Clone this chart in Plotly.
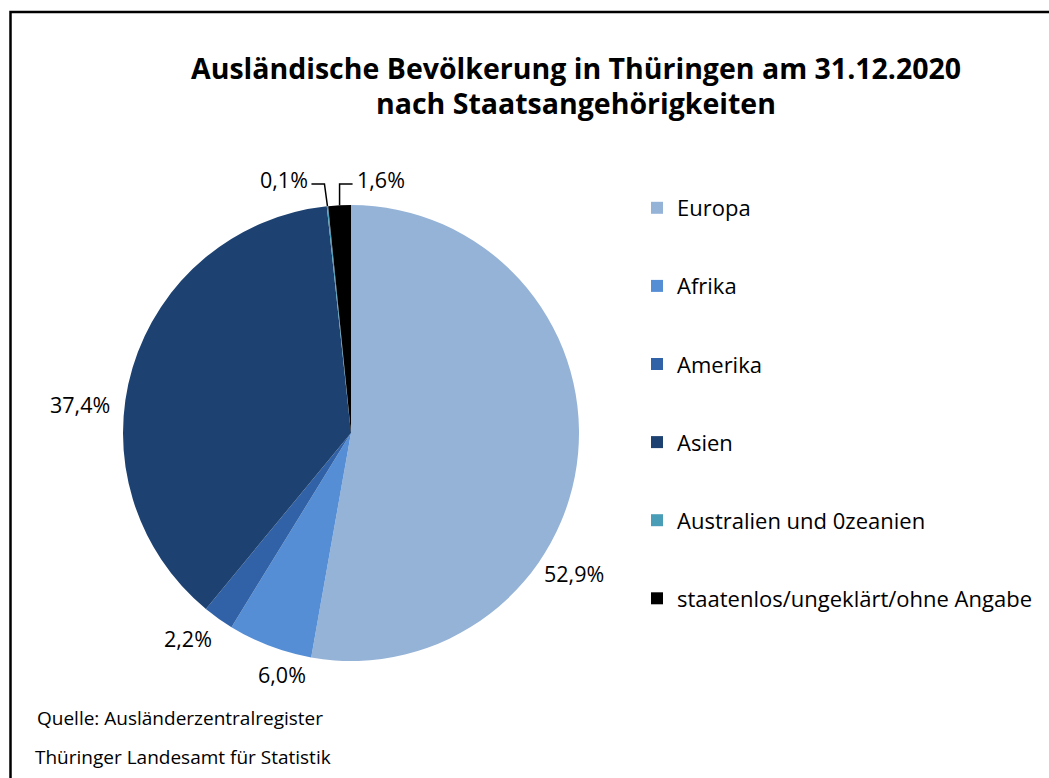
import math
import plotly.graph_objects as go

W, H = 1049, 778

# ---- data ----
categories = ["Europa", "Afrika", "Amerika", "Asien",
              "Australien und 0zeanien", "staatenlos/ungeklärt/ohne Angabe"]
shares = [52.9, 6.0, 2.2, 37.4, 0.1, 1.6]
colors = ["#95B3D7", "#558ED5", "#3161A6", "#1D4271", "#4A9DB7", "#000000"]

title_lines = ["Ausländische Bevölkerung in Thüringen am 31.12.2020",
               "nach Staatsangehörigkeiten"]
footer_lines = ["Quelle: Ausländerzentralregister",
                "Thüringer Landesamt für Statistik"]

FONT = "Open Sans"

def fx(x):
    return x / W

def fy(y):
    return 1 - y / H

# pie geometry (pixels)
CX, CY, R = 351, 433, 228

fig = go.Figure()
fig.add_trace(go.Pie(
    labels=categories, values=shares, sort=False, direction="clockwise",
    rotation=0, marker=dict(colors=colors, line=dict(width=0)),
    textinfo="none", hoverinfo="label+percent", showlegend=False,
    domain=dict(x=[fx(CX - R), fx(CX + R)], y=[fy(CY + R), fy(CY - R)]),
))

# legend via dummy traces
for name, col in zip(categories, colors):
    fig.add_trace(go.Scatter(
        x=[None], y=[None], mode="markers", name=name, legendgroup=name,
        marker=dict(symbol="square", size=14, color=col), showlegend=True,
        hoverinfo="skip"))

# percentage labels
def pct(v):
    return f"{v:.1f}%".replace(".", ",")

label_pos = {  # pixel centre / anchor of each label text
    0: (574, 573, "center"),
    1: (282, 674, "center"),
    2: (188, 638, "center"),
    3: (80, 404, "center"),
    4: (310, 179, "right"),
    5: (355, 179, "left"),
}
annotations = []
for i, v in enumerate(shares):
    x, y, anc = label_pos[i]
    annotations.append(dict(
        x=fx(x), y=fy(y), xref="paper", yref="paper", text=pct(v),
        showarrow=False, xanchor=anc, yanchor="middle",
        font=dict(family=FONT, size=21.5, color="#000000")))

# leader lines for the small top slices, from slice mid-angle on the rim
total = sum(shares)
cum = 0
mids = []
for v in shares:
    mids.append((cum + v / 2) / total * 2 * math.pi)
    cum += v
shapes = []
for i, side in ((4, -1), (5, 1)):
    a = mids[i]
    ex = CX + R * math.sin(a)
    ey = CY - R * math.cos(a)
    elbow_x = ex + (-3 if side < 0 else 0)
    ely = 184
    hx = elbow_x + side * 13
    path = (f"M {fx(ex)} {fy(ey)} L {fx(elbow_x)} {fy(ely)} "
            f"L {fx(hx)} {fy(ely)}")
    shapes.append(dict(type="path", path=path, xref="paper", yref="paper",
                       line=dict(color="#000000", width=1.5)))

# outer frame
shapes.append(dict(type="rect", xref="paper", yref="paper",
                   x0=fx(10.5), y0=fy(12), x1=fx(W + 10), y1=fy(H + 10),
                   line=dict(color="#000000", width=2.5)))

# title (two lines)
for t, y in zip(title_lines, [68, 103]):
    annotations.append(dict(
        x=fx(576), y=fy(y), xref="paper", yref="paper",
        text=f"<b>{t}</b>",
        showarrow=False, xanchor="center", yanchor="middle",
        font=dict(family=FONT, size=28.5, color="#000000")))

# footer
for t, (x, y) in zip(footer_lines, [(35, 718), (33, 757)]):
    annotations.append(dict(
        x=fx(x), y=fy(y), xref="paper", yref="paper", text=t,
        showarrow=False, xanchor="left", yanchor="middle",
        font=dict(family=FONT, size=19, color="#000000")))

fig.update_layout(
    width=W, height=H, autosize=False,
    margin=dict(l=0, r=0, t=0, b=0, pad=0),
    paper_bgcolor="#FFFFFF", plot_bgcolor="#FFFFFF",
    xaxis=dict(visible=False), yaxis=dict(visible=False),
    showlegend=True,
    legend=dict(x=fx(637), y=fy(187), xanchor="left", yanchor="top",
                font=dict(family=FONT, size=22, color="#000000"),
                tracegroupgap=46.5, itemsizing="constant",
                bgcolor="rgba(0,0,0,0)"),
    annotations=annotations, shapes=shapes,
    font=dict(family=FONT),
)

fig.write_html("out.html", config={"displayModeBar": False},
               post_script="document.body.style.margin='0px';document.body.style.overflow='hidden';")
